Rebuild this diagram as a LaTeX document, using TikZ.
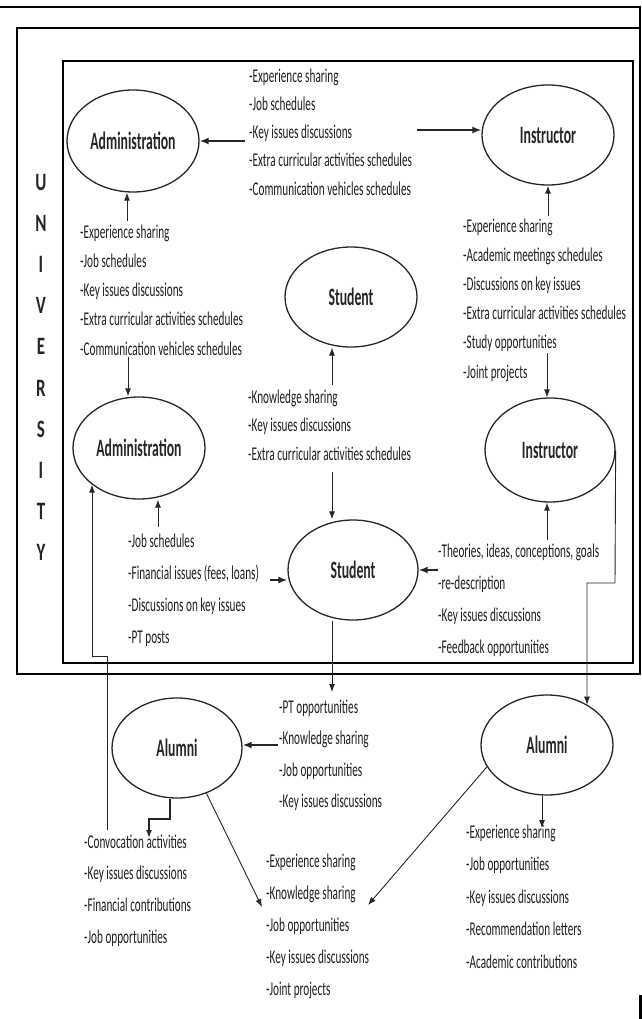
\documentclass[tikz,border=0pt]{standalone}
\usepackage{fontspec}
\usetikzlibrary{shapes.geometric,arrows.meta}
\newfontfamily\txtfont[FakeStretch=0.575]{Carlito}
\newfontfamily\labfont[FakeStretch=0.55]{Carlito}
\newfontfamily\unifont[FakeStretch=0.68]{Carlito}
\newcommand\mylist[5]{%
  \foreach \itm [count=\i] in {#5} {\node[item] (#1-\i) at ({#2},{#3+(\i-1)*#4}) {-\itm};}}
\begin{document}
\begin{tikzpicture}[x=1pt,y=-1pt,
  item/.style={anchor=west, inner sep=0pt, text height=13pt, text depth=3pt,
    font=\txtfont\fontsize{19.5}{21}\selectfont, text=black!88},
  ell/.style={draw=black!85, line width=1.3pt, ellipse, inner sep=0pt,
    font=\labfont\bfseries\fontsize{25}{27}\selectfont, text=black!85},
  uni/.style={inner sep=0pt, font=\unifont\bfseries\fontsize{25}{26}\selectfont, text=black!85},
  arr/.style={-{Latex[length=8pt,width=6pt]}, line width=0.9pt, draw=black!85},
  arrb/.style={-{Latex[length=9pt,width=7pt]}, line width=1.7pt, draw=black!85}]
\useasboundingbox (0,0) rectangle (641,1019);
% frames
\draw[line width=2.5pt] (0,7) -- (640,7) -- (640,28);
\draw[line width=2.2pt] (17,28) rectangle (640,674);
\draw[line width=1.5pt] (63,61) rectangle (633,663);
\draw[line width=3pt] (640,995) -- (640,1019);
% UNIVERSITY
\foreach \L [count=\i] in {U,N,I,V,E,R,S,I,T,Y}
  \node[uni] (u\i) at (41,{182+41.2*(\i-1)}) {\L};
% ellipses
\node[ell, minimum width=132pt, minimum height=102pt] (adm1) at (133,141) {Administration};
\node[ell, minimum width=132pt, minimum height=100pt] (ins1) at (548,135) {Instructor};
\node[ell, minimum width=132pt, minimum height=100pt] (stu1) at (351,297) {Student};
\node[ell, minimum width=132pt, minimum height=102pt] (adm2) at (139,448) {Administration};
\node[ell, minimum width=130pt, minimum height=104pt] (ins2) at (550,450) {Instructor};
\node[ell, minimum width=130pt, minimum height=100pt] (stu2) at (353,570) {Student};
\node[ell, minimum width=130pt, minimum height=100pt] (alu1) at (177,748) {Alumni};
\node[ell, minimum width=132pt, minimum height=100pt] (alu2) at (547,745) {Alumni};
% text lists
\mylist{tA}{249}{78}{28}{Experience sharing, Job schedules, Key issues discussions, Extra curricular activities schedules, Communication vehicles schedules}
\mylist{tB}{80}{233}{29.3}{Experience sharing, Job schedules, Key issues discussions, Extra curricular activities schedules, Communication vehicles schedules}
\mylist{tC}{463}{227}{29.2}{Experience sharing, Academic meetings schedules, Discussions on key issues, Extra curricular activities schedules, Study opportunities, Joint projects}
\mylist{tD}{248}{398}{28.5}{Knowledge sharing, Key issues discussions, Extra curricular activities schedules}
\mylist{tE}{128}{542}{32}{Job schedules, {Financial issues (fees, loans)}, Discussions on key issues, PT posts}
\mylist{tF}{438}{552}{32}{{Theories, ideas, conceptions, goals}, re-description, Key issues discussions, Feedback opportunities}
\mylist{tG}{279}{708}{31.5}{PT opportunities, Knowledge sharing, Job opportunities, Key issues discussions}
\mylist{tH}{84}{843}{31.7}{Convocation activities, Key issues discussions, Financial contributions, Job opportunities}
\mylist{tI}{266}{862}{32}{Experience sharing, Knowledge sharing, Job opportunities, Key issues discussions, Joint projects}
\mylist{tJ}{466}{833}{32.5}{Experience sharing, Job opportunities, Key issues discussions, Recommendation letters, Academic contributions}
% connectors
\coordinate (a1) at (245,141);
\draw[arrb] (a1) -- (adm1.east);
\coordinate (a2) at (417,130);
\draw[arrb] (a2) -- (a2 -| ins1.west);
\coordinate (b1) at (127,221);
\draw[arr] (b1) -- (b1 |- adm1.south);
\coordinate (b2) at (128,357);
\draw[arr] (b2) -- (b2 |- adm2.north);
\coordinate (b3) at (548,216);
\draw[arr] (b3) -- (b3 |- ins1.south);
\coordinate (b4) at (547,353);
\draw[arr] (b4) -- (b4 |- ins2.north);
\coordinate (b5) at (332,385);
\draw[arr] (b5) -- (b5 |- stu1.south);
\coordinate (b6) at (332,472);
\draw[arr] (b6) -- (b6 |- stu2.north);
\coordinate (b7) at (158,527);
\draw[arr] (b7) -- (b7 |- adm2.south);
\coordinate (b8) at (270,580);
\draw[arrb] (b8) -- (b8 -| stu2.west);
\coordinate (b9) at (438,570);
\draw[arrb] (b9) -- (stu2.east);
\coordinate (b10) at (547,540);
\draw[arr] (b10) -- (b10 |- ins2.south);
\coordinate (b11) at (332,692);
\draw[arr] (b11 |- stu2.south) -- (b11);
\coordinate (b12) at (278,745);
\draw[arrb] (b12) -- (b12 -| alu1.east);
\coordinate (l1) at (107,830);
\coordinate (l2) at (107,656);
\coordinate (l3) at (92,656);
\draw[arr] (l1) -- (l2) -- (l3) -- (l3 |- adm2.218);
\coordinate (m1) at (170,819);
\coordinate (m2) at (149,819);
\coordinate (m3) at (149,838);
\draw[arr, line width=1.5pt] (m1 |- alu1.south) -- (m1) -- (m2) -- (m3);
\coordinate (c17) at (262,907);
\draw[arr] (alu1.303) -- (c17);
\coordinate (c18) at (368,905);
\draw[arr] (alu2.200) -- (c18);
\coordinate (c19) at (542,828);
\draw[arr] (c19 |- alu2.south) -- (c19);
\coordinate (r1) at (615,583);
\coordinate (r2) at (587,583);
\draw[arr] (ins2.east) -- (r1) -- (r2) -- (r2 |- alu2.45);
\end{tikzpicture}
\end{document}
